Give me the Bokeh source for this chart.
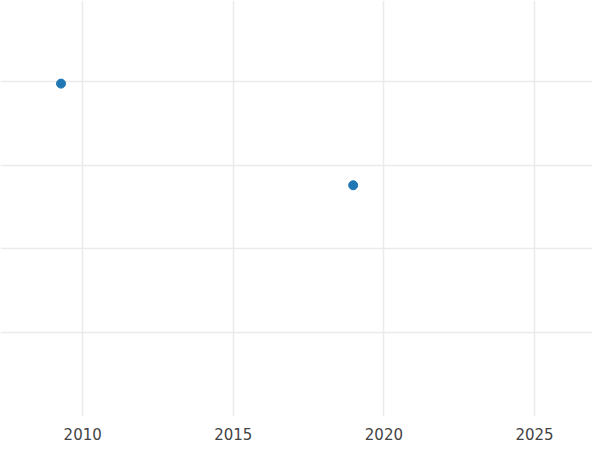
from bokeh.plotting import figure
from bokeh.models import Range1d, FixedTicker
from bokeh.embed import file_html
from bokeh.resources import INLINE

years = [2009.28, 2018.98]
values = [39.73, 27.6]
x_ticks = [2010, 2015, 2020, 2025]
y_ticks = [10, 20, 30, 40]

p = figure(width=592, height=442, output_backend="svg", toolbar_location=None,
           x_range=Range1d(2007.271, 2026.926), y_range=Range1d(0, 49.65),
           min_border_left=0, min_border_right=0, min_border_top=0)
p.outline_line_color = None
p.background_fill_color = "white"
p.border_fill_color = "white"

p.scatter(years, values, size=9, color="#1f77b4", line_color="#1f77b4")

p.xaxis.ticker = FixedTicker(ticks=x_ticks)
p.yaxis.ticker = FixedTicker(ticks=y_ticks)
p.yaxis.visible = False
p.xaxis.axis_line_color = None
p.xaxis.major_tick_line_color = None
p.xaxis.minor_tick_line_color = None
p.xaxis.major_label_text_font = "DejaVu Sans"
p.xaxis.major_label_text_font_size = "15px"
p.xaxis.major_label_text_color = "#444444"
p.xaxis.major_label_standoff = 5

p.xgrid.grid_line_color = "#ebebeb"
p.ygrid.grid_line_color = "#ebebeb"
p.xgrid.grid_line_width = 1.5
p.ygrid.grid_line_width = 1.5

open("out.html", "w").write(file_html(p, INLINE))
